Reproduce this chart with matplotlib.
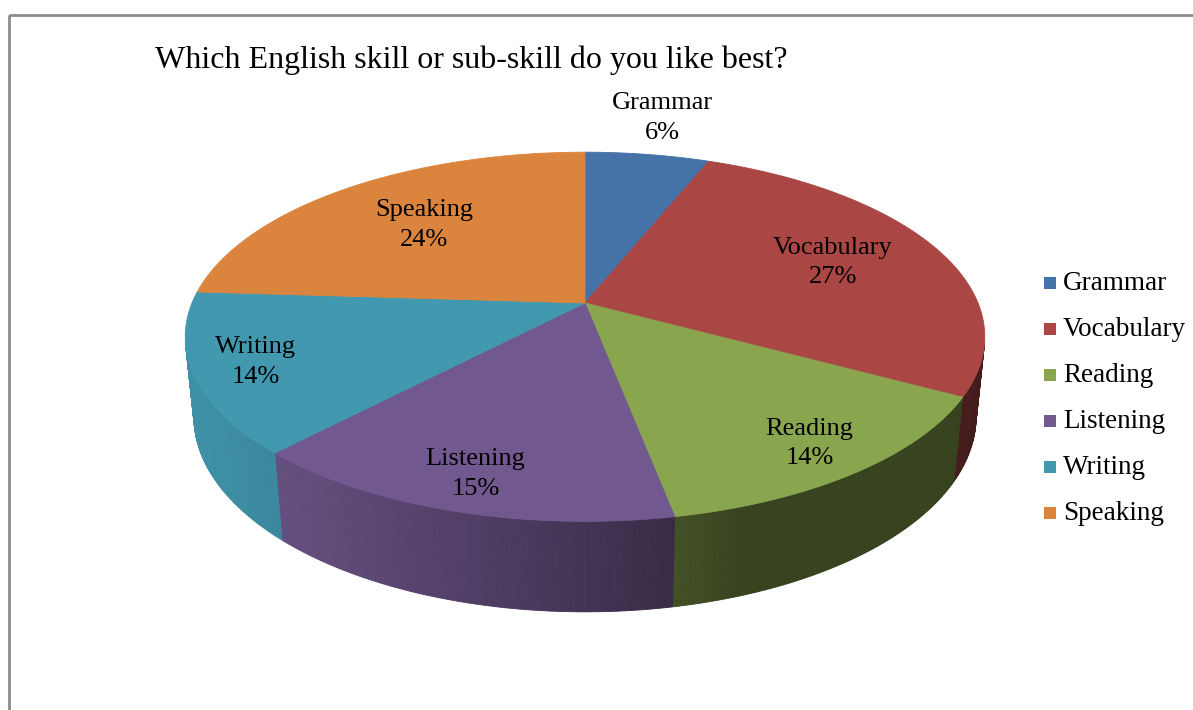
import numpy as np
import matplotlib.pyplot as plt
from matplotlib.patches import Polygon, Rectangle
from matplotlib.colors import to_rgb

plt.rcParams['font.family'] = ['Liberation Serif', 'DejaVu Serif']

title = 'Which English skill or sub-skill do you like best?'
skills = ['Grammar', 'Vocabulary', 'Reading', 'Listening', 'Writing', 'Speaking']
shares = [6, 27, 14, 15, 14, 24]
colors = ['#4572A7', '#AA4643', '#89A54E', '#71588F', '#4198AF', '#DB843D']

# label placement as a fraction of the radius
label_r = [1.3, 0.7, 0.85, 0.85, 0.85, 0.65]

# projection of the pie disk (pixels on a 1193x710 canvas)
CX, CY, R = 585, 303, 393
TILT = np.radians(27)
DIST = 4.87
THICK = 0.23


def project(phi, r, z):
    x = r * np.cos(phi)
    y = r * np.sin(phi)
    v = y * np.sin(TILT) + z * np.cos(TILT)
    d = -y * np.cos(TILT) + z * np.sin(TILT)
    s = DIST / (DIST - d)
    return CX + R * x * s, CY - R * v * s


def shade(color, phi):
    f = 0.4 + 0.55 * max(0.0, np.cos(phi - np.radians(200)))
    return tuple(c * f for c in to_rgb(color))


fig = plt.figure(figsize=(11.93, 7.10), dpi=100)
ax = fig.add_axes([0, 0, 1, 1])
ax.set_xlim(0, 1193)
ax.set_ylim(710, 0)
ax.axis('off')

ax.add_patch(Rectangle((8.5, 14.5), 1300, 800, fill=False,
                       edgecolor='#8c8c8c', linewidth=2))

fracs = np.array(shares, dtype=float) / sum(shares)
ends = np.radians(90) - 2 * np.pi * np.cumsum(fracs)
starts = np.concatenate([[np.radians(90)], ends[:-1]])

# side walls, only the part facing the camera
limit = -1 / (DIST * np.cos(TILT))
for a0, a1, col in zip(starts, ends, colors):
    phis = np.linspace(a1, a0, 120)
    for p0, p1 in zip(phis[:-1], phis[1:]):
        pm = 0.5 * (p0 + p1)
        if np.sin(pm) > limit + 0.02:
            continue
        pts = [project(p0, 1, 0), project(p1, 1, 0),
               project(p1, 1, -THICK), project(p0, 1, -THICK)]
        c = shade(col, pm)
        ax.add_patch(Polygon(pts, closed=True, facecolor=c,
                             edgecolor=c, linewidth=0.6))

# top faces
for a0, a1, col in zip(starts, ends, colors):
    phis = np.linspace(a0, a1, 200)
    pts = [project(0, 0, 0)] + [project(p, 1, 0) for p in phis]
    ax.add_patch(Polygon(pts, closed=True, facecolor=col,
                         edgecolor=col, linewidth=0.6))

# slice labels
for name, val, a0, a1, rr in zip(skills, shares, starts, ends, label_r):
    x, y = project(0.5 * (a0 + a1), rr, 0)
    ax.text(x, y, f'{name}\n{val}%', ha='center', va='center',
            fontsize=19, linespacing=1.45)

ax.text(155, 60, title, ha='left', va='center', fontsize=23)

# legend
for i, (name, col) in enumerate(zip(skills, colors)):
    y = 283 + i * 46
    ax.add_patch(Rectangle((1044, y - 6), 12, 12, facecolor=col,
                           edgecolor='none'))
    ax.text(1063, y, name, ha='left', va='center', fontsize=19.5)

fig.savefig('out.png', dpi=100)
